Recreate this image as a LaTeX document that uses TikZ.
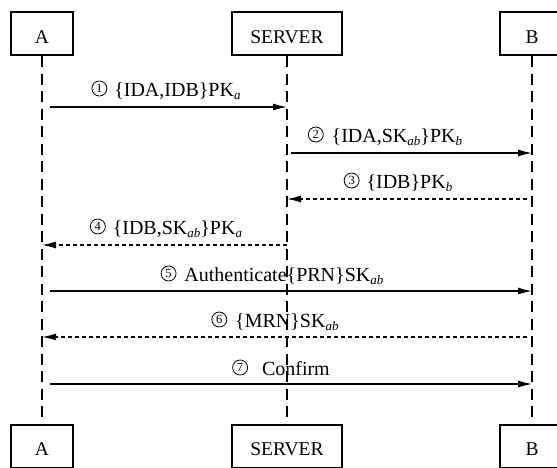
\documentclass[tikz,border=0pt]{standalone}
\usepackage{fontspec}
\setmainfont{Liberation Serif}
\usetikzlibrary{arrows.meta}

% circled step number
\newcommand{\cnum}[1]{\tikz[baseline={([yshift=-7.5pt]c.center)}]\node[circle,draw,line width=0.8pt,minimum size=15pt,inner sep=0pt,font=\fontsize{12.5}{12.5}\selectfont](c){#1};}
% italic subscript
\newcommand{\lowit}[1]{\raisebox{-3.5pt}{\fontsize{13}{13}\selectfont\itshape #1}}

\begin{document}
\begin{tikzpicture}[x=1pt,y=-1pt,
  actor/.style={draw,line width=1.6pt,minimum height=43pt,inner sep=0pt,
    text height=18.5pt,text depth=0pt,font=\fontsize{19.5}{23}\selectfont},
  life/.style={line width=1.2pt,dash pattern=on 11pt off 6.5pt},
  msg/.style={line width=1.2pt,-{Latex[length=14pt,width=7pt]}},
  reply/.style={msg,dash pattern=on 4pt off 3pt},
  lbl/.style={anchor=base,inner sep=0pt,font=\fontsize{20}{24}\selectfont}]
\clip (0,0) rectangle (557,467);

% participants, top and bottom
\node[actor,minimum width=62pt]  (A1) at (42,33.75)  {A};
\node[actor,minimum width=110pt] (S1) at (287,33.75) {SERVER};
\node[actor,minimum width=64pt]  (B1) at (532,33.75) {B};
\node[actor,minimum width=62pt]  (A2) at (42,446.5)  {A};
\node[actor,minimum width=110pt] (S2) at (287,446.5) {SERVER};
\node[actor,minimum width=64pt]  (B2) at (532,446.5) {B};

% lifelines
\draw[life] (A1.south) -- (A2.north);
\draw[life] (S1.south) -- (S2.north);
\draw[life] (B1.south) -- (B2.north);

% message points on the lifelines
\foreach \i/\y in {1/107,2/153,3/199,4/245,5/291,6/337,7/384}{
  \coordinate (A-\i) at (42,\y);
  \coordinate (S-\i) at (287,\y);
  \coordinate (B-\i) at (532,\y);
}

% messages
\draw[msg]   ([xshift=8pt]A-1) -- (S-1);
\draw[msg]   ([xshift=4pt]S-2) -- (B-2);
\draw[reply] ([xshift=-5pt]B-3) -- (S-3);
\draw[reply] (S-4) -- (A-4);
\draw[msg]   ([xshift=8pt]A-5) -- (B-5);
\draw[reply] ([xshift=-5pt]B-6) -- (A-6);
\draw[msg]   ([xshift=8pt]A-7) -- (B-7);

% message labels
\node[lbl] (l1) at (166,96)  {\cnum{1}\hspace{7pt}\{IDA,IDB\}PK\lowit{a}};
\node[lbl] (l2) at (385,142) {\cnum{2}\hspace{8pt}\{IDA,SK\lowit{ab}\}PK\lowit{b}};
\node[lbl] (l3) at (398,188) {\cnum{3}\hspace{7pt}\{IDB\}PK\lowit{b}};
\node[lbl] (l4) at (166,234) {\cnum{4}\hspace{7pt}\{IDB,SK\lowit{ab}\}PK\lowit{a}};
\node[lbl] (l5) at (272,281) {\cnum{5}\hspace{8pt}Authenticate\{PRN\}SK\lowit{ab}};
\node[lbl] (l6) at (275,327) {\cnum{6}\hspace{8pt}\{MRN\}SK\lowit{ab}};
\node[lbl] (l7) at (281,375) {\cnum{7}\hspace{14pt}Confirm};
\end{tikzpicture}
\end{document}
